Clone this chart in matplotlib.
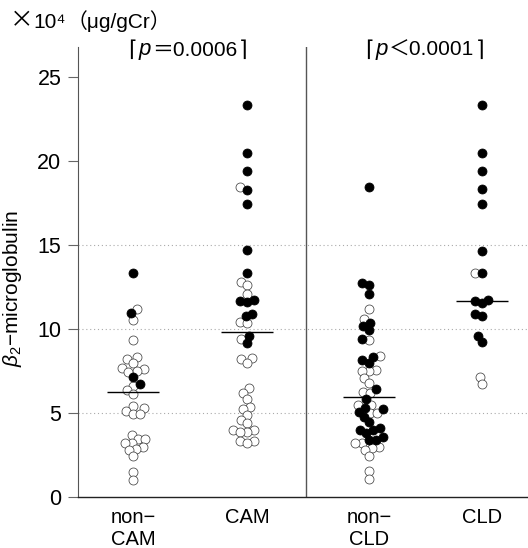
import matplotlib as mpl
import matplotlib.pyplot as plt
import numpy as np
from matplotlib.offsetbox import AnnotationBbox, HPacker, TextArea

mpl.use('Agg')

plt.rcParams['font.family'] = ['Liberation Sans', 'DejaVu Sans', 'Noto Sans CJK JP']
plt.rcParams['mathtext.fontset'] = 'custom'
plt.rcParams['mathtext.rm'] = 'Liberation Sans'
plt.rcParams['mathtext.it'] = 'Liberation Sans:italic'

# ---- data (x10^4 ug/gCr) ----
categories = ['non−\nCAM', 'CAM', 'non−\nCLD', 'CLD']
positions = [1.0, 2.0, 3.07, 4.06]

noncam_filled = [13.33, 10.95, 7.14, 6.73]
noncam_open = [11.19, 10.54, 9.35, 8.33, 8.2, 7.96, 7.68, 7.6, 7.5, 7.44,
               6.6, 6.37, 6.13, 5.4, 5.3, 5.1, 4.95, 4.95,
               3.7, 3.45, 3.45, 3.2, 3.2, 2.98, 2.86, 2.8, 2.44, 1.5, 1.0]

cam_filled = [23.33, 20.48, 19.4, 18.3, 17.44, 14.7, 13.33, 11.7, 11.67,
              11.6, 10.9, 10.77, 9.58, 9.17]
cam_open = [18.45, 12.8, 12.6, 12.08, 10.4, 10.35, 9.4, 8.27, 8.2, 7.96,
            6.5, 6.2, 5.83, 5.36, 5.24, 4.9, 4.6, 4.4, 4.0, 4.0, 3.87, 3.87,
            3.33, 3.33, 3.2]

noncld_filled = [18.45, 12.74, 12.6, 12.08, 10.36, 10.18, 9.94, 9.4, 8.33,
                 8.15, 7.98, 6.4, 5.83, 5.3, 5.24, 5.06, 4.76, 4.46, 4.1,
                 4.0, 4.0, 3.8, 3.57, 3.4, 3.4]
noncld_open = [11.19, 10.6, 9.35, 8.4, 7.56, 7.5, 7.5, 7.08, 6.8, 6.25, 6.2,
               5.5, 5.5, 5.0, 5.0, 3.2, 3.2, 2.98, 2.92, 2.8, 2.44, 1.55, 1.07]

cld_filled = [23.33, 20.48, 19.4, 18.33, 17.44, 14.64, 13.33, 11.73, 11.67,
              11.55, 10.9, 10.77, 9.58, 9.23]
cld_open = [13.33, 7.14, 6.73]

medians = [6.27, 9.82, 5.97, 11.67]
grid_levels = [5, 10, 15]
p_labels = ['＝0.0006', '＜0.0001']

groups = [(noncam_filled, noncam_open), (cam_filled, cam_open),
          (noncld_filled, noncld_open), (cld_filled, cld_open)]


def swarm_x(ax, x0, values, diam):
    # simple beeswarm in pixel space
    pts = ax.transData.transform(
        np.column_stack([np.full(len(values), x0), values]))
    xc = pts[0, 0]
    out = np.zeros(len(values))
    placed = []
    for i in np.argsort(values, kind='stable'):
        y = pts[i, 1]
        cands = [xc]
        for px, py in placed:
            dy = abs(py - y)
            if dy < diam:
                dx = np.sqrt(diam ** 2 - dy ** 2)
                cands += [px - dx, px + dx]
        cands.sort(key=lambda c: abs(c - xc))
        for c in cands:
            if all((c - px) ** 2 + (y - py) ** 2 >= diam ** 2 - 1e-6
                   for px, py in placed):
                break
        placed.append((c, y))
        out[i] = c
    inv = ax.transData.inverted()
    return inv.transform(np.column_stack([out, pts[:, 1]]))[:, 0]


fig = plt.figure(figsize=(5.28, 5.48), dpi=100)
ax = fig.add_axes([78 / 528, 51 / 548, 450 / 528, 450 / 548])
ax.set_xlim(0.5175, 4.465)
ax.set_ylim(0, 26.79)

for sp in ['top', 'right']:
    ax.spines[sp].set_visible(False)
ax.spines['left'].set_color('#555555')
ax.spines['bottom'].set_color('#222222')
ax.spines['bottom'].set_linewidth(1.0)

ax.set_yticks([0, 5, 10, 15, 20, 25])
ax.tick_params(axis='y', direction='out', length=7, width=0.8,
               color='#666666', labelsize=15.5, pad=5)
ax.set_xticks(positions, categories)
ax.tick_params(axis='x', length=0, labelsize=14.5, pad=8)

for lv in grid_levels:
    ax.axhline(lv, color='#aaaaaa', lw=0.8, ls=(0, (1, 2.5)), zorder=0)
ax.axvline(2.52, color='#555555', lw=1.0, zorder=1)

for pos, (filled, opened), med in zip(positions, groups, medians):
    vals = np.array(filled + opened)
    is_filled = np.array([True] * len(filled) + [False] * len(opened))
    xs = swarm_x(ax, pos, vals, 7.2)
    ax.scatter(xs[~is_filled], vals[~is_filled], s=42, facecolor='white',
               edgecolor='#444444', linewidth=0.55, zorder=3)
    ax.scatter(xs[is_filled], vals[is_filled], s=42, facecolor='black',
               edgecolor='black', linewidth=0.55, zorder=4)
    ax.hlines(med, pos - 0.23, pos + 0.23, color='black', lw=1.0, zorder=5)

fig.text(13 / 528, 1 - 288 / 548, r'$\beta_2$−microglobulin', rotation=90,
         ha='center', va='center', fontsize=15)

# unit label at top left
unit_parts = [TextArea('×', textprops=dict(fontsize=17, family='Noto Sans CJK JP')),
              TextArea('10⁴', textprops=dict(fontsize=15)),
              TextArea('（μg/gCr）', textprops=dict(fontsize=15,
                                                    family=['Liberation Sans',
                                                            'Noto Sans CJK JP']))]
unit_box = HPacker(children=unit_parts, align='baseline', pad=0, sep=0)
fig.add_artist(AnnotationBbox(unit_box, (10, 548 - 21), xycoords='figure pixels',
                              frameon=False, box_alignment=(0, 0.5)))

# p-value labels with italic p
for cx, lab in zip([188, 425], p_labels):
    parts = [TextArea('⌈', textprops=dict(fontsize=16, family='DejaVu Sans')),
             TextArea('p', textprops=dict(fontsize=16, style='italic')),
             TextArea(lab, textprops=dict(fontsize=15,
                                          family=['Liberation Sans',
                                                  'Noto Sans CJK JP'])),
             TextArea('⌉', textprops=dict(fontsize=16, family='DejaVu Sans'))]
    box = HPacker(children=parts, align='baseline', pad=0, sep=1)
    ab = AnnotationBbox(box, (cx, 548 - 50), xycoords='figure pixels',
                        frameon=False, box_alignment=(0.5, 0.5))
    fig.add_artist(ab)

fig.savefig('out.png', dpi=100)
